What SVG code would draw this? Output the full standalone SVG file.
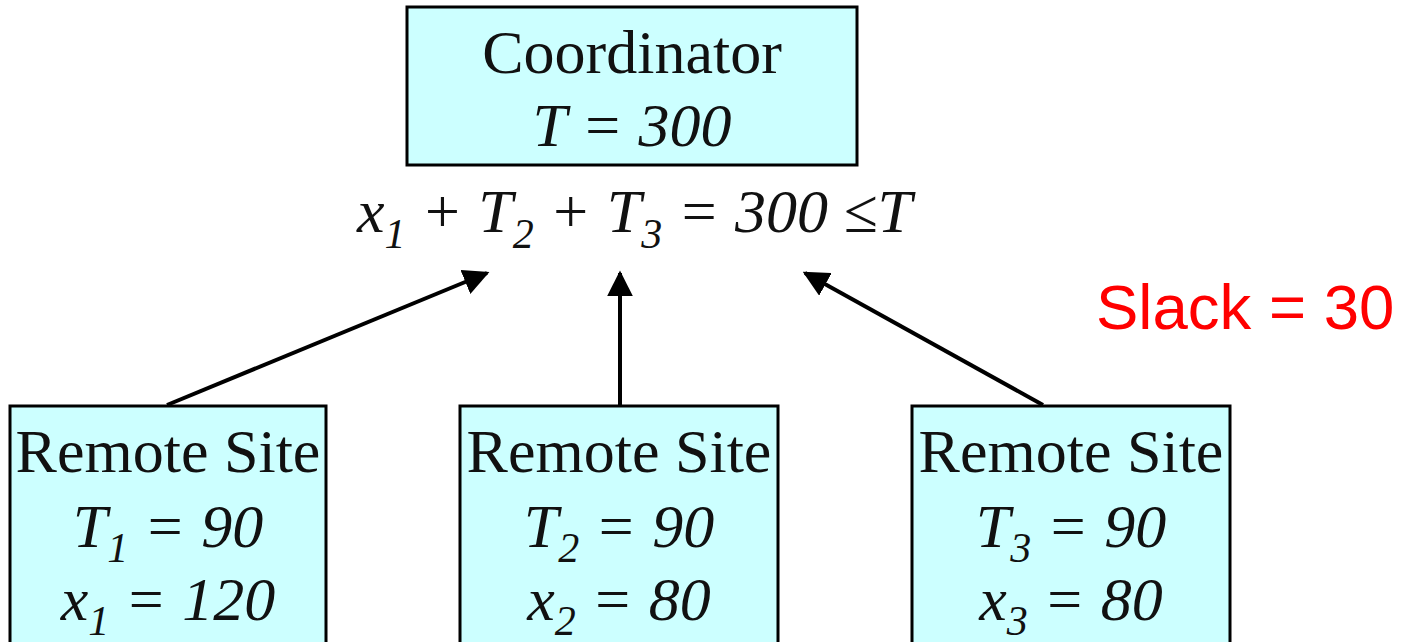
<svg xmlns="http://www.w3.org/2000/svg" width="1402" height="642" viewBox="0 0 1402 642">
<defs>
<style>
.box{fill:#ccffff;stroke:#000;stroke-width:3}
.t{font-family:"Liberation Serif","Times New Roman",serif;font-size:62px;fill:#111;text-anchor:middle}
.i{font-style:italic}
.sub{font-size:42px}
.conn{stroke:#000;stroke-width:4;fill:none;marker-end:url(#ah)}
</style>
<marker id="ah" viewBox="0 0 10 10" refX="9" refY="5" markerWidth="6.5" markerHeight="6.5" markerUnits="strokeWidth" orient="auto">
<path d="M0,0 L10,5 L0,10 z" fill="#000"/>
</marker>
</defs>
<rect width="1402" height="642" fill="#fff"/>
<g id="coordinator">
<rect class="box" x="407" y="7" width="450" height="158"/>
<text class="t" x="632" y="73">Coordinator</text>
<text class="t i" x="632" y="146">T = 300</text>
</g>
<g id="equation">
<text class="t i" x="357" y="232" style="text-anchor:start">x<tspan class="sub" dy="16">1</tspan><tspan dy="-16"> + T</tspan><tspan class="sub" dy="16">2</tspan><tspan dy="-16"> + T</tspan><tspan class="sub" dy="16">3</tspan><tspan dy="-16"> = 300 ≤T</tspan></text>
</g>
<g id="site1">
<rect class="box" x="10" y="406" width="316" height="250"/>
<text class="t" x="168" y="472">Remote Site</text>
<text class="t i" x="168" y="547">T<tspan class="sub" dy="15">1</tspan><tspan dy="-15"> = 90</tspan></text>
<text class="t i" x="168" y="620">x<tspan class="sub" dy="15">1</tspan><tspan dy="-15"> = 120</tspan></text>
</g>
<g id="site2">
<rect class="box" x="460" y="406" width="318" height="250"/>
<text class="t" x="619" y="472">Remote Site</text>
<text class="t i" x="619" y="547">T<tspan class="sub" dy="15">2</tspan><tspan dy="-15"> = 90</tspan></text>
<text class="t i" x="619" y="620">x<tspan class="sub" dy="15">2</tspan><tspan dy="-15"> = 80</tspan></text>
</g>
<g id="site3">
<rect class="box" x="912" y="406" width="318" height="250"/>
<text class="t" x="1071" y="472">Remote Site</text>
<text class="t i" x="1071" y="547">T<tspan class="sub" dy="15">3</tspan><tspan dy="-15"> = 90</tspan></text>
<text class="t i" x="1071" y="620">x<tspan class="sub" dy="15">3</tspan><tspan dy="-15"> = 80</tspan></text>
</g>
<g id="slack">
<text x="1096" y="329" style="font-family:'Liberation Sans',Arial,sans-serif;font-size:63.5px;fill:#ff0000">Slack = 30</text>
</g>
<g id="connectors">
<line class="conn" x1="167" y1="405" x2="487" y2="273"/>
<line class="conn" x1="620" y1="405" x2="620" y2="273"/>
<line class="conn" x1="1043" y1="405" x2="805" y2="273"/>
</g>
</svg>
